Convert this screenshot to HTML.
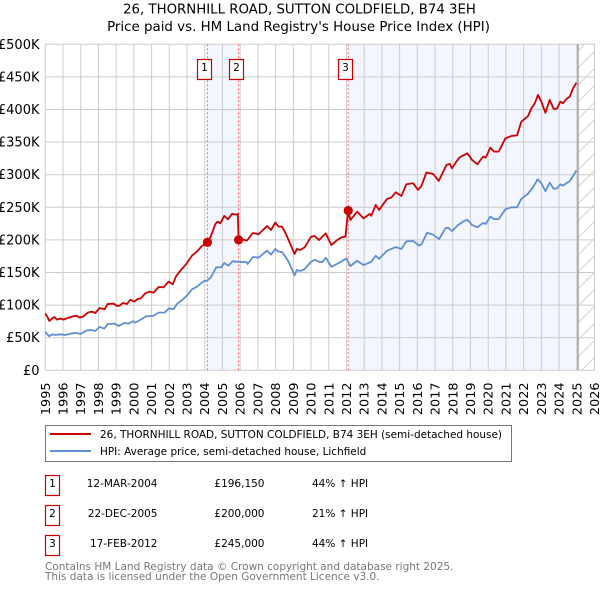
<!DOCTYPE html>
<html lang="en">
<head>
<meta charset="utf-8">
<title>26, Thornhill Road price chart</title>
<style>
html,body{margin:0;padding:0;background:#fff;width:600px;height:590px;overflow:hidden}
svg{display:block;font-family:"DejaVu Sans","Liberation Sans",sans-serif;fill:#000}
</style>
</head>
<body>
<svg id="chart" xmlns="http://www.w3.org/2000/svg" width="600" height="590" viewBox="0 0 600 590">
  <defs>
    <pattern id="hatch" patternUnits="userSpaceOnUse" width="17" height="17">
      <path d="M-2 19 L19 -2" stroke="#d2d2d2" stroke-width="1" fill="none"/>
    </pattern>
  </defs>
  <text x="299.5" y="13.5" font-size="13.3" text-anchor="middle">26, THORNHILL ROAD, SUTTON COLDFIELD, B74 3EH</text>
  <text x="298.5" y="31" font-size="13.4" text-anchor="middle">Price paid vs. HM Land Registry's House Price Index (HPI)</text>
  <g id="plot"></g>

  <g>
    <rect x="45.5" y="425.5" width="466" height="36" fill="#fff" stroke="#777" stroke-width="1"/>
    <line x1="50" x2="91" y1="434" y2="434" stroke="#cc0000" stroke-width="2"/>
    <text x="100" y="438" font-size="10.48">26, THORNHILL ROAD, SUTTON COLDFIELD, B74 3EH (semi-detached house)</text>
    <line x1="50" x2="91" y1="451" y2="451" stroke="#5f8fd3" stroke-width="2"/>
    <text x="100" y="455" font-size="10.48">HPI: Average price, semi-detached house, Lichfield</text>
  </g>

  <g font-size="10.5">
    <rect x="45.5" y="475.5" width="14" height="20" fill="#fff" stroke="#cc0000" stroke-width="1.2"/>
    <text x="52.5" y="487" text-anchor="middle">1</text>
    <text x="157.5" y="487" text-anchor="end">12-MAR-2004</text>
    <text x="264.5" y="487" text-anchor="end">£196,150</text>
    <text x="312" y="487">44% ↑ HPI</text>

    <rect x="45.5" y="505.5" width="14" height="20" fill="#fff" stroke="#cc0000" stroke-width="1.2"/>
    <text x="52.5" y="517" text-anchor="middle">2</text>
    <text x="157.5" y="517" text-anchor="end">22-DEC-2005</text>
    <text x="264.5" y="517" text-anchor="end">£200,000</text>
    <text x="312" y="517">21% ↑ HPI</text>

    <rect x="45.5" y="535.5" width="14" height="20" fill="#fff" stroke="#cc0000" stroke-width="1.2"/>
    <text x="52.5" y="547" text-anchor="middle">3</text>
    <text x="157.5" y="547" text-anchor="end">17-FEB-2012</text>
    <text x="264.5" y="547" text-anchor="end">£245,000</text>
    <text x="312" y="547">44% ↑ HPI</text>
  </g>

  <g font-size="10.5" fill="#777">
    <text x="45" y="570" fill="#777">Contains HM Land Registry data © Crown copyright and database right 2025.</text>
    <text x="45" y="580" fill="#777">This data is licensed under the Open Government Licence v3.0.</text>
  </g>
</svg>

<script>
const yearTicks = [1995,1996,1997,1998,1999,2000,2001,2002,2003,2004,2005,2006,2007,2008,2009,2010,2011,2012,2013,2014,2015,2016,2017,2018,2019,2020,2021,2022,2023,2024,2025,2026];
const priceTicks = [0,50,100,150,200,250,300,350,400,450,500];
const priceTickLabels = ['£0','£50K','£100K','£150K','£200K','£250K','£300K','£350K','£400K','£450K','£500K'];

const saleDates = [2004.15,2005.91,2012.1];
const salePrices = [196.15,200,245];
const saleLabels = ['1','2','3'];
const dataEndDate = 2025.07;

const propertyDates = [1995,1995.09,1995.23,1995.38,1995.51,1995.66,1995.85,1996.03,1996.22,1996.51,1996.75,1996.94,1997.16,1997.39,1997.63,1997.82,1998.07,1998.35,1998.52,1998.86,1999.05,1999.2,1999.38,1999.61,1999.8,2000.02,2000.21,2000.4,2000.64,2000.89,2001.11,2001.4,2001.68,2001.96,2002.19,2002.39,2002.71,2002.96,2003.28,2003.56,2003.84,2004.15,2004.35,2004.6,2004.73,2004.88,2005.1,2005.31,2005.54,2005.8,2005.87,2005.91,2006.1,2006.38,2006.72,2007.04,2007.51,2007.74,2007.98,2008.17,2008.36,2008.55,2008.73,2009.07,2009.2,2009.39,2009.64,2010,2010.2,2010.45,2010.83,2011.15,2011.43,2011.71,2011.94,2012.1,2012.22,2012.6,2012.97,2013.31,2013.4,2013.65,2013.84,2014.29,2014.53,2014.78,2015.1,2015.38,2015.76,2016.04,2016.23,2016.51,2016.89,2017.21,2017.64,2017.83,2017.96,2018.2,2018.39,2018.82,2019.09,2019.39,2019.71,2019.86,2020.12,2020.33,2020.59,2020.97,2021.31,2021.63,2021.87,2022.25,2022.44,2022.63,2022.81,2023,2023.23,2023.47,2023.7,2023.89,2024.07,2024.22,2024.41,2024.6,2024.79,2024.98];
const propertyValues = [86.9,83.3,75.7,79.2,81.8,77.7,79.2,77.7,79.8,82.3,83.8,80.8,82.8,88.4,90,87.9,95.6,93.6,101.7,102.2,98.7,99.2,103.3,101.7,108.4,105.3,109.4,110.4,118.1,120.7,119.1,127.8,127.3,136,131.9,144.7,155.4,163.1,175.9,182,190.7,196.15,206,224.4,228,225.5,236.7,231.6,239.8,238.8,240,200,200.9,198.9,210.6,208.6,221.4,215.2,226.5,220.3,220.3,211.1,199.9,178.4,186.1,184.6,188.5,204.9,206,199.8,210,192,198.8,203.9,205,245,230.5,243.3,233,239.8,237,253.6,246,262.8,264.9,273,267.4,285.3,286.9,276.6,282.8,303.3,301.2,290.5,314.9,316.6,309.8,320,326.7,332.8,322.6,316,327.7,326.2,341.5,335.4,335.4,355.8,359.4,360.4,381.4,390,401.8,409.5,422.3,412,395,414.6,400.8,401.8,412,409.5,416,419.7,432.5,441];

const hpiDates = [1995,1995.09,1995.23,1995.38,1995.56,1995.85,1996.13,1996.51,1996.75,1996.98,1997.31,1997.58,1997.82,1998.07,1998.33,1998.52,1998.89,1999.14,1999.46,1999.7,1999.95,2000.08,2000.36,2000.68,2001.08,2001.4,2001.72,2002,2002.24,2002.43,2002.77,2003.03,2003.28,2003.56,2003.9,2004.16,2004.35,2004.65,2004.92,2005.1,2005.33,2005.57,2005.91,2006.35,2006.42,2006.72,2007.04,2007.51,2007.74,2007.98,2008.17,2008.36,2008.55,2008.73,2009.07,2009.2,2009.39,2009.64,2010,2010.2,2010.49,2010.64,2010.83,2011.15,2011.52,2012,2012.22,2012.6,2012.97,2013.4,2013.65,2013.84,2014.29,2014.78,2015.1,2015.38,2015.76,2016.08,2016.23,2016.55,2016.89,2017.23,2017.58,2017.73,2017.96,2018.3,2018.58,2018.82,2019.09,2019.39,2019.71,2019.86,2020.12,2020.33,2020.59,2020.97,2021.31,2021.63,2021.87,2022.25,2022.53,2022.79,2023,2023.23,2023.47,2023.7,2023.89,2024.07,2024.22,2024.41,2024.6,2024.79,2024.98];
const hpiValues = [59.3,55.7,52.1,55.2,54.2,55.2,54.2,56.7,57.3,55.7,60.8,61.9,60.3,66.5,63.9,71,71.6,68,72.6,71.6,75.2,73.1,77.2,82.8,83.3,88.4,88.4,95.1,93.6,101.7,108.9,115.5,124.2,128.3,136,138,142.6,158,158,164.6,160.5,167.2,166.2,166,163,173.8,172.8,183.5,177.4,186,182,181.5,174.3,166.7,145.7,153.9,152.4,155.2,166.5,169.6,166,166,172.6,158.8,163.9,171.6,159.8,168,161.4,166.5,175.7,171,183.4,189,186,197.7,198.3,191.6,193,211,208,201.3,217.7,218.8,213.6,222.8,228,231,222.8,219.3,226,224.4,235.7,232,232,246.9,250,250,262.8,271,280.7,293,286.9,274.6,287.9,278.2,279.2,285.3,283.3,286.9,290,298,306.4];

const SVG_NS = 'http://www.w3.org/2000/svg';
const plot = document.getElementById('plot');
const left = 45.3, right = 594.5, top_ = 44.3, bottom = 370.3;
function xScale(year){ return left + (year - 1995) * (right - left) / 31; }
function yScale(k){ return bottom - k * (bottom - top_) / 500; }
function make(tag, attrs){
  const el = document.createElementNS(SVG_NS, tag);
  for (const k in attrs) el.setAttribute(k, attrs[k]);
  plot.appendChild(el);
  return el;
}
function linePath(xs, ys){
  return xs.map((d, i) => (i ? 'L' : 'M') + xScale(d).toFixed(2) + ' ' + yScale(ys[i]).toFixed(2)).join(' ');
}

// ownership shading
saleDates.forEach((d, i) => {
  if (i === 1) return;
  const end = i === 0 ? saleDates[1] : dataEndDate;
  const band = make('rect', {x: xScale(d), y: top_, width: xScale(end) - xScale(d), height: bottom - top_, fill: '#f3f6fe'});
  
  
});

// forecast hatch
const hatch = make('rect', {x: xScale(dataEndDate), y: top_, width: right - xScale(dataEndDate), height: bottom - top_, fill: 'url(#hatch)'});



// grid + ticks
yearTicks.forEach(year => {
  const g = make('line', {x1: xScale(year), x2: xScale(year), y1: top_, y2: bottom, stroke: '#cccccc', 'stroke-width': 1});
  
  
  const lx = xScale(year) + 4.5;
  const t = make('text', {x: lx, y: 382.5, 'font-size': 12.8, 'text-anchor': 'end', transform: 'rotate(-90 ' + lx + ' 382.5)'});
  t.textContent = year;
  
  
});
priceTicks.forEach((v, i) => {
  const g = make('line', {x1: left, x2: right, y1: yScale(v), y2: yScale(v), stroke: '#cccccc', 'stroke-width': 1});
  
  
  const t = make('text', {x: 39.5, y: yScale(v) + 4.5, 'font-size': 13, 'text-anchor': 'end'});
  t.textContent = priceTickLabels[i];
  
  
});

// data end marker
const endLine = make('line', {x1: xScale(dataEndDate), x2: xScale(dataEndDate), y1: top_, y2: bottom, stroke: '#999999', 'stroke-width': 1.3});



// sale reference lines and labels
saleDates.forEach((d, i) => {
  const l = make('line', {x1: xScale(d), x2: xScale(d), y1: top_, y2: bottom, stroke: '#ff6666', 'stroke-width': 1, 'stroke-dasharray': '2 2'});
  
  
});

// series
const hpiLine = make('path', {d: linePath(hpiDates, hpiValues), fill: 'none', stroke: '#5f8fd3', 'stroke-width': 1.8, 'stroke-linejoin': 'round'});


const propertyLine = make('path', {d: linePath(propertyDates, propertyValues), fill: 'none', stroke: '#cc0000', 'stroke-width': 1.8, 'stroke-linejoin': 'round'});



// sale markers and number boxes
saleDates.forEach((d, i) => {
  const m = make('circle', {cx: xScale(d), cy: yScale(salePrices[i]), r: 4.6, fill: '#cc0000'});
  
  
  const bx = Math.round(xScale(d)) - 9.5;
  const b = make('rect', {x: bx, y: 59.5, width: 14, height: 20, fill: '#fff', stroke: '#cc0000', 'stroke-width': 1.2});
  
  
  const t = make('text', {x: bx + 7, y: 71, 'font-size': 10.5, 'text-anchor': 'middle'});
  t.textContent = saleLabels[i];
  
  
});
</script>
</body>
</html>
